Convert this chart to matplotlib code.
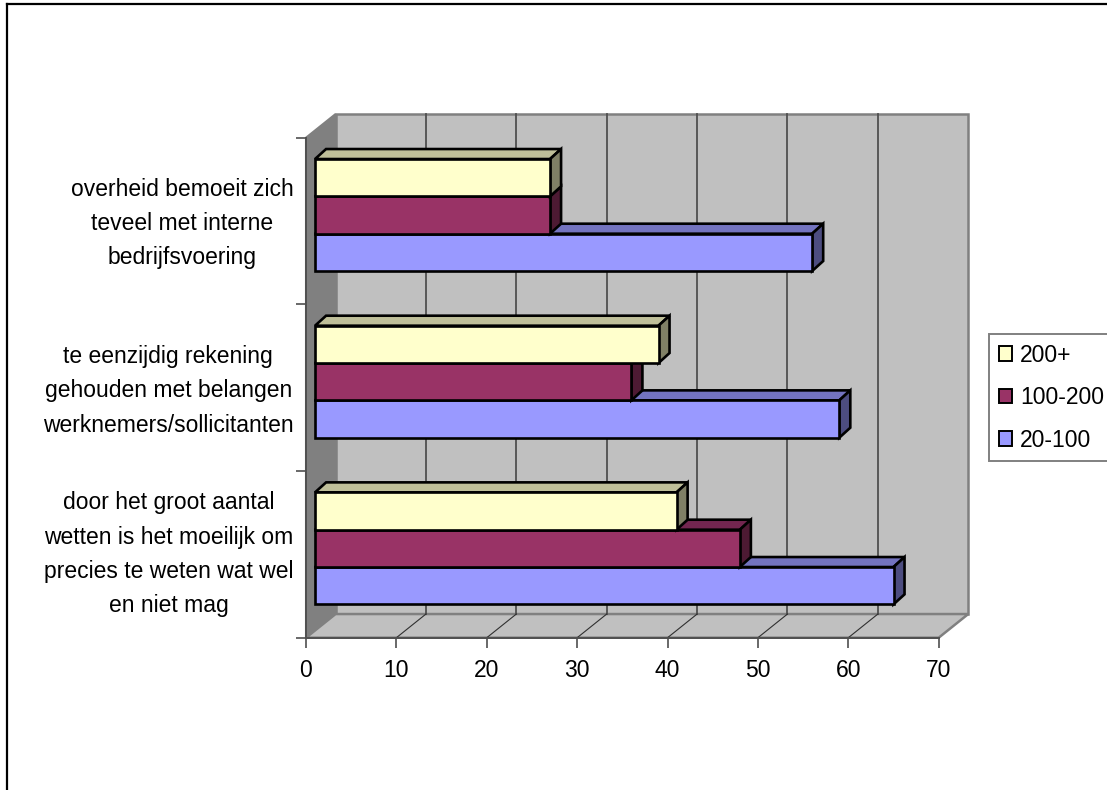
import matplotlib
matplotlib.use('Agg')
import matplotlib.pyplot as plt
from matplotlib.lines import Line2D
from matplotlib.patches import Patch

plt.rcParams['font.family'] = ['Liberation Sans', 'DejaVu Sans']

# categories run bottom to top
categories = [
    'door het groot aantal\nwetten is het moeilijk om\nprecies te weten wat wel\nen niet mag',
    'te eenzijdig rekening\ngehouden met belangen\nwerknemers/sollicitanten',
    'overheid bemoeit zich\nteveel met interne\nbedrijfsvoering',
]
series_names = ['20-100', '100-200', '200+']
values_20_100 = [65, 59, 56]
values_100_200 = [48, 36, 27]
values_200_plus = [41, 39, 27]
x_ticks = [0, 10, 20, 30, 40, 50, 60, 70]

colors = ['#9999FF', '#993366', '#FFFFCC']
tops = ['#7373BF', '#732650', '#BFBF99']
sides = ['#4D4D80', '#4D1A33', '#808066']

W, H = 1107, 790
# front plane of the 3d box, in pixels
left_px, right_px = 306, 938.7
top_px, bottom_px = 137.7, 637.7

# depth of the walls and of the bars, in axis units
WALL_DX, WALL_DY = 3.27, 0.142
BAR_DX, BAR_DY = 1.22, 0.06
BAR_START = 1
BAR_H = 0.224
GROUP_GAP = 0.2

fig = plt.figure(figsize=(W / 100, H / 100), dpi=100, facecolor='white')
ax = fig.add_axes([left_px / W, 1 - bottom_px / H,
                   (right_px - left_px) / W, (bottom_px - top_px) / H])
ax.set_xlim(0, 70)
ax.set_ylim(0, 3)
ax.patch.set_visible(False)
for s in ['top', 'right']:
    ax.spines[s].set_visible(False)
for s in ['left', 'bottom']:
    ax.spines[s].set_color('#505050')
    ax.spines[s].set_linewidth(1.4)
    ax.spines[s].set_zorder(3)


def face(xs, ys, color, z, edge='none', lw=0):
    ax.fill(xs, ys, facecolor=color, edgecolor=edge, linewidth=lw,
            clip_on=False, zorder=z, joinstyle='miter')


# walls and floor
wall_edge = '#808080'
face([WALL_DX, 70 + WALL_DX, 70 + WALL_DX, WALL_DX],
     [WALL_DY, WALL_DY, 3 + WALL_DY, 3 + WALL_DY], '#C0C0C0', 1, wall_edge, 1.8)
face([0, WALL_DX, WALL_DX, 0], [0, WALL_DY, 3 + WALL_DY, 3], '#808080', 1, wall_edge, 1.5)
face([0, 70, 70 + WALL_DX, WALL_DX], [0, 0, WALL_DY, WALL_DY], '#C0C0C0', 1, wall_edge, 1.8)

# gridlines up the back wall and across the floor
for v in x_ticks[1:-1]:
    ax.plot([v + WALL_DX] * 2, [WALL_DY, 3 + WALL_DY], color='#505050', lw=1.3,
            clip_on=False, zorder=2)
    ax.plot([v, v + WALL_DX], [0, WALL_DY], color='#303030', lw=0.8,
            clip_on=False, zorder=2)

# bars: each series sits on top of the previous one
all_values = [values_20_100, values_100_200, values_200_plus]
edge_lw = 1.9
for n, vals in enumerate(all_values):
    z = 5 + n
    for i, v in enumerate(vals):
        y0 = i + GROUP_GAP + n * BAR_H
        y1 = y0 + BAR_H
        # top face and end face first, front face over them
        face([BAR_START, v, v + BAR_DX, BAR_START + BAR_DX],
             [y1, y1, y1 + BAR_DY, y1 + BAR_DY], tops[n], z, 'black', edge_lw)
        face([v, v + BAR_DX, v + BAR_DX, v],
             [y0, y0 + BAR_DY, y1 + BAR_DY, y1], sides[n], z, 'black', edge_lw)
        ax.barh(y0, v - BAR_START, height=BAR_H, left=BAR_START, align='edge',
                color=colors[n], edgecolor='black', linewidth=edge_lw,
                clip_on=False, zorder=z)

# axes ticks
ax.set_xticks(x_ticks)
ax.set_xticklabels([str(v) for v in x_ticks])
ax.tick_params(axis='x', length=7, width=1.1, color='#404040', labelsize=16.5, pad=8)
ax.set_yticks([0, 1, 2, 3])
ax.set_yticklabels([])
ax.tick_params(axis='y', which='major', length=7, width=1.1, color='#404040')
ax.set_yticks([0.55, 1.53, 2.535], categories, minor=True)
ax.tick_params(axis='y', which='minor', length=0, labelsize=16.5, pad=9)
for lab in ax.get_yticklabels(minor=True):
    lab.set_multialignment('center')
    lab.set_linespacing(1.63)

# legend box runs past the right edge of the figure
handles = [Patch(facecolor=colors[n], edgecolor='black', linewidth=1.4) for n in [2, 1, 0]]
leg = ax.legend(handles, [series_names[n] for n in [2, 1, 0]],
                loc='upper left', bbox_to_anchor=(989 / W, 1 - 334 / H),
                bbox_transform=fig.transFigure, fontsize=16.5, frameon=True,
                fancybox=False, framealpha=1, edgecolor='#808080',
                borderaxespad=0, borderpad=0.42, labelspacing=0.85,
                handlelength=0.6, handleheight=0.6, handletextpad=0.33)
leg.get_frame().set_linewidth(1.4)
leg.set_zorder(10)

# chart area border, only the top and left sides show
fig.add_artist(Line2D([7 / W, 1], [1 - 3.5 / H] * 2, color='black', lw=1.6))
fig.add_artist(Line2D([7 / W] * 2, [0, 1 - 3.5 / H], color='black', lw=1.6))

fig.savefig('out.png', dpi=100)
